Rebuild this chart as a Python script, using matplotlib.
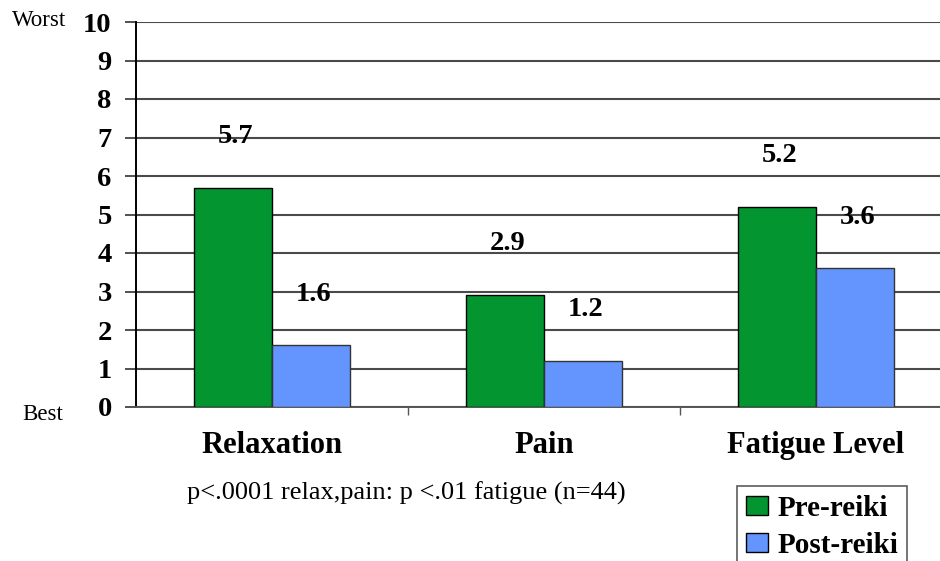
import matplotlib
matplotlib.use("Agg")
import matplotlib.pyplot as plt
import numpy as np
from matplotlib.patches import Patch

categories = ["Relaxation", "Pain", "Fatigue Level"]
pre_reiki = [5.7, 2.9, 5.2]
post_reiki = [1.6, 1.2, 3.6]
series_names = ["Pre-reiki", "Post-reiki"]
yticks = list(range(0, 11))
note = "p<.0001 relax,pain: p <.01 fatigue (n=44)"

GREEN = "#03952F"
BLUE = "#6495FF"
SERIF = ["Liberation Serif", "DejaVu Serif"]

fig = plt.figure(figsize=(9.4, 5.61), dpi=100)
ax = fig.add_axes([136/940, 154/561, (952-136)/940, (407-22)/561])

x = np.arange(len(categories))
w = 0.287
b1 = ax.bar(x - w/2, pre_reiki, w, color=GREEN, edgecolor="black", linewidth=1.0, zorder=3)
b2 = ax.bar(x + w/2, post_reiki, w, color=BLUE, edgecolor="#333333", linewidth=1.0, zorder=3)

ax.set_xlim(-0.5, 2.5)
ax.set_ylim(0, 10)
ax.set_yticks(yticks)
ax.set_yticklabels([str(t) for t in yticks], fontfamily=SERIF, fontweight="bold", fontsize=20.5)
ax.yaxis.grid(True, color="#4a4a4a", linewidth=1.5, zorder=0)
ax.set_axisbelow(True)
ax.tick_params(axis="y", length=8, width=1.2, color="#333333", pad=9.5)

ax.set_xticks([0.5, 1.5, 2.5], minor=False)
ax.set_xticklabels([])
ax.tick_params(axis="x", length=6, width=1, color="#555555", direction="out")
for i, c in enumerate(categories):
    ax.text(x[i], -0.62, c, ha="center", va="top", fontfamily=SERIF,
            fontweight="bold", fontsize=22, transform=ax.transData)

for s in ["top", "right"]:
    ax.spines[s].set_visible(False)
ax.spines["left"].set_color("black")
ax.spines["left"].set_linewidth(1.4)
ax.spines["bottom"].set_color("#555555")
ax.spines["bottom"].set_linewidth(1.4)

for bars, vals in ((b1, pre_reiki), (b2, post_reiki)):
    for r, v in zip(bars, vals):
        ax.annotate(f"{v:.1f}", (r.get_x() + r.get_width()/2, v), xytext=(2, 37),
                    textcoords="offset points", ha="center", va="center",
                    fontfamily=SERIF, fontweight="bold", fontsize=20.5)

fig.text(12/940, 1 - 20/561, "Worst", fontfamily=SERIF, fontsize=16.5, ha="left", va="center")
fig.text(22/940, 1 - 415/561, "Best", fontfamily=SERIF, fontsize=16.5, ha="left", va="center")
fig.text(406/940, 1 - 493/561, note, fontfamily=SERIF, fontsize=19, ha="center", va="center")

handles = [Patch(facecolor=GREEN, edgecolor="black"), Patch(facecolor=BLUE, edgecolor="black")]
leg = fig.legend(handles, series_names, loc="upper left", bbox_to_anchor=(737/940, 1 - 486/561),
                 frameon=True, fancybox=False, edgecolor="#333333",
                 prop={"family": SERIF, "weight": "bold", "size": 21},
                 handlelength=0.75, handleheight=0.6, handletextpad=0.35,
                 borderpad=0.3, labelspacing=0.35, borderaxespad=0)
leg.get_frame().set_linewidth(1.2)

fig.savefig("out.png", dpi=100)
